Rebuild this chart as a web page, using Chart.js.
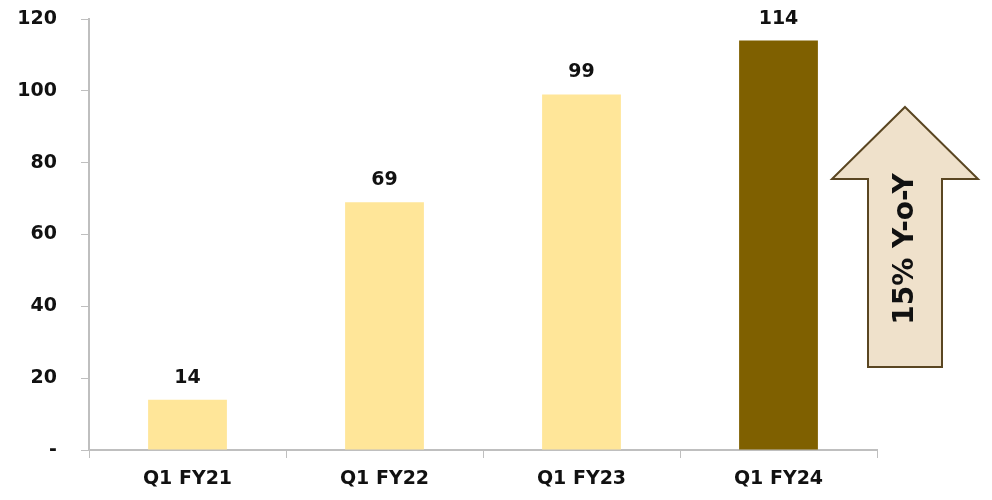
<!DOCTYPE html>
<html>
<head>
<meta charset="utf-8">
<script src="https://cdn.jsdelivr.net/npm/chart.js@4/dist/chart.umd.min.js"></script>
<style>
  html, body { margin: 0; padding: 0; background: #ffffff; }
  #wrap { width: 992px; height: 500px; position: relative; }
</style>
</head>
<body>
<div id="wrap"><canvas id="c" width="992" height="500"></canvas></div>
<script>
// Quarterly figures
const categories = ['Q1 FY21', 'Q1 FY22', 'Q1 FY23', 'Q1 FY24'];
const values = [14, 69, 99, 114];
const barColors = ['#FFE699', '#FFE699', '#FFE699', '#7F6000'];
const growthLabel = '15% Y-o-Y';

const FONT = '"DejaVu Sans", "Noto Sans", sans-serif';

// Value labels above each bar
const valueLabels = {
  id: 'valueLabels',
  afterDatasetsDraw(chart) {
    const ctx = chart.ctx;
    const meta = chart.getDatasetMeta(0);
    ctx.save();
    ctx.font = 'bold 19px ' + FONT;
    ctx.fillStyle = '#111111';
    ctx.textAlign = 'center';
    ctx.textBaseline = 'alphabetic';
    meta.data.forEach((bar, i) => {
      ctx.fillText(String(values[i]), bar.x, bar.y - 17);
    });
    ctx.restore();
  }
};

// Growth arrow callout on the right
const growthArrow = {
  id: 'growthArrow',
  afterDraw(chart) {
    const ctx = chart.ctx;
    ctx.save();
    ctx.beginPath();
    ctx.moveTo(905, 107);
    ctx.lineTo(978, 179);
    ctx.lineTo(942, 179);
    ctx.lineTo(942, 367);
    ctx.lineTo(868, 367);
    ctx.lineTo(868, 179);
    ctx.lineTo(832, 179);
    ctx.closePath();
    ctx.fillStyle = '#EFE1CB';
    ctx.fill();
    ctx.lineWidth = 2;
    ctx.strokeStyle = '#5A4622';
    ctx.stroke();
    ctx.translate(906, 249);
    ctx.rotate(-Math.PI / 2);
    ctx.font = 'bold 28px ' + FONT;
    ctx.fillStyle = '#111111';
    ctx.textAlign = 'center';
    ctx.textBaseline = 'middle';
    ctx.fillText(growthLabel, 0, 0);
    ctx.restore();
  }
};

new Chart(document.getElementById('c'), {
  type: 'bar',
  data: {
    labels: categories,
    datasets: [{
      data: values,
      backgroundColor: barColors,
      borderWidth: 0,
      categoryPercentage: 1,
      barPercentage: 0.4
    }]
  },
  options: {
    responsive: false,
    animation: false,
    layout: { padding: { top: 19, right: 115, left: 0, bottom: 0 } },
    plugins: { legend: { display: false }, tooltip: { enabled: false } },
    scales: {
      x: {
        grid: { drawOnChartArea: false, drawTicks: true, tickLength: 8, color: '#BFBFBF', offset: true },
        border: { color: '#BFBFBF', width: 2 },
        ticks: { color: '#111111', font: { family: FONT, size: 19, weight: 'bold' }, padding: 10 },
        afterFit(scale) { scale.height = 50; scale.paddingLeft = 0; scale.paddingRight = 0; }
      },
      y: {
        min: 0,
        max: 120,
        grid: { drawOnChartArea: false, drawTicks: true, tickLength: 8, color: '#BFBFBF' },
        border: { color: '#BFBFBF', width: 2 },
        ticks: {
          stepSize: 20,
          color: '#111111',
          font: { family: FONT, size: 19, weight: 'bold' },
          padding: 24,
          callback: (v) => (v === 0 ? '-' : v)
        },
        afterFit(scale) { scale.width = 89; scale.paddingTop = 0; scale.paddingBottom = 0; }
      }
    }
  },
  plugins: [valueLabels, growthArrow]
});
</script>
</body>
</html>
